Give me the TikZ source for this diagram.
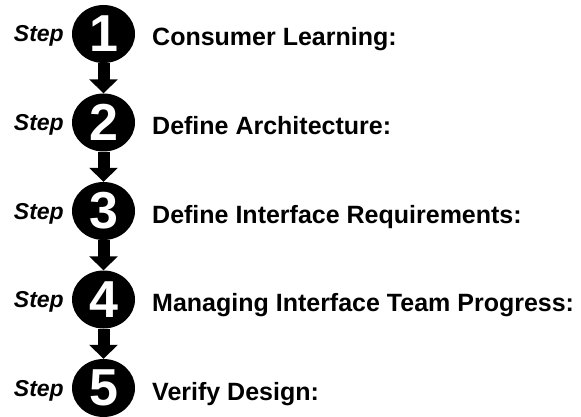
\documentclass[tikz,border=0pt]{standalone}
\usepackage{fontspec}
\setmainfont{Liberation Sans}
\usetikzlibrary{arrows.meta,shapes.geometric}
\begin{document}
\begin{tikzpicture}[x=1pt,y=-1pt,
  stepdisc/.style={ellipse, fill=black, minimum width=63pt, minimum height=58pt,
    inner sep=0pt, text=white, font=\fontsize{52}{52}\selectfont\bfseries},
  steptag/.style={anchor=base east, inner sep=0pt, font=\fontsize{23}{23}\selectfont\bfseries\itshape},
  steptitle/.style={anchor=base west, inner sep=0pt, font=\fontsize{25}{25}\selectfont\bfseries},
  flow/.style={line width=12pt, -{Triangle[width=28pt,length=14pt]}}]
\useasboundingbox (0,0) rectangle (581,417);
\foreach \n/\y/\title in {1/34/Consumer Learning:,
                         2/122.5/Define Architecture:,
                         3/211/Define Interface Requirements:,
                         4/299.5/Managing Interface Team Progress:,
                         5/388/Verify Design:}{
  \node[stepdisc] (c\n) at (103.5,\y) {\n};
  \node[steptag] (s\n) at (64,\y+8) {Step};
  \node[steptitle] (t\n) at (152,\y+12) {\title};
}
\foreach \a/\b in {1/2,2/3,3/4,4/5}
  \draw[flow] (c\a.south) -- (c\b.north);
\end{tikzpicture}
\end{document}
